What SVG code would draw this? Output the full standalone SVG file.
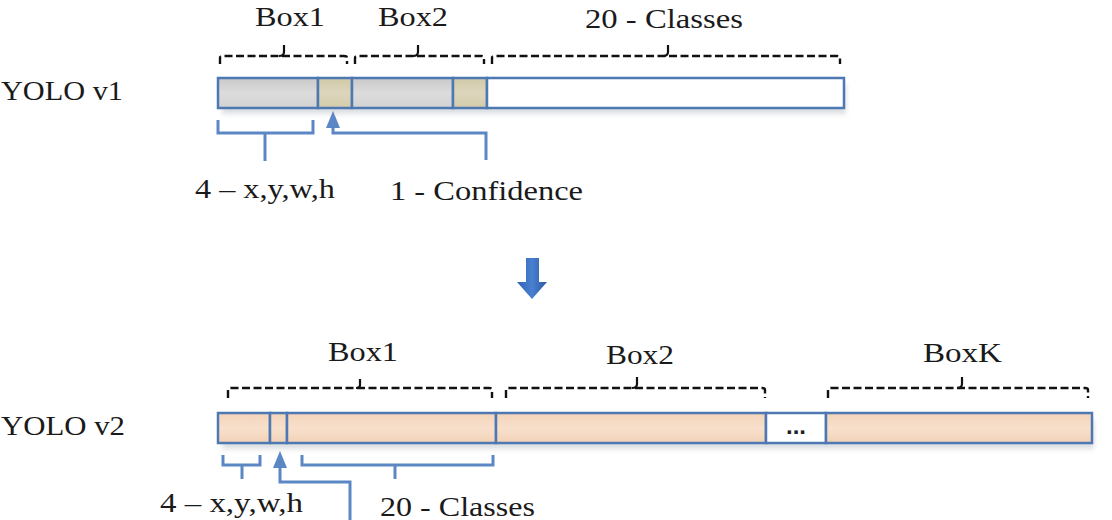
<svg xmlns="http://www.w3.org/2000/svg" width="1112" height="520" viewBox="0 0 1112 520">
<style>
.t{font-family:"Liberation Serif","Times New Roman",serif;font-size:27px;fill:#1a1a1a}
.cell{stroke:#4d78b2;stroke-width:2.5}
.dash{fill:none;stroke:#111;stroke-width:2.4;stroke-dasharray:8 3.5}
.tick{fill:none;stroke:#111;stroke-width:2.2}
.brace{fill:none;stroke:#5b87c4;stroke-width:3}
.head{fill:#5b87c4}
.shadow{fill:#9aa3ad;opacity:0.35}
</style>
<defs>
<linearGradient id="gray" x1="0" y1="0" x2="0" y2="1"><stop offset="0" stop-color="#c9c9c9"/><stop offset="0.5" stop-color="#dcdcdc"/><stop offset="1" stop-color="#d2d2d2"/></linearGradient>
<linearGradient id="tan" x1="0" y1="0" x2="0" y2="1"><stop offset="0" stop-color="#d2c9a8"/><stop offset="0.5" stop-color="#ddd6bd"/><stop offset="1" stop-color="#d4cbaa"/></linearGradient>
<linearGradient id="peach" x1="0" y1="0" x2="0" y2="1"><stop offset="0" stop-color="#f3d3b9"/><stop offset="0.5" stop-color="#f8e0cc"/><stop offset="1" stop-color="#f2d2b8"/></linearGradient>
<linearGradient id="arr" x1="0" y1="0" x2="1" y2="0"><stop offset="0" stop-color="#2f63b3"/><stop offset="0.5" stop-color="#4a80d0"/><stop offset="1" stop-color="#2a5aa6"/></linearGradient>
<filter id="blur" x="-5%" y="-50%" width="110%" height="200%"><feGaussianBlur stdDeviation="2.5"/></filter>
</defs>
<rect width="1112" height="520" fill="#fff"/>

<g id="v1-label"><text class="t" x="1" y="100" textLength="122" lengthAdjust="spacingAndGlyphs">YOLO v1</text></g>
<g id="v2-label"><text class="t" x="1" y="435" textLength="124" lengthAdjust="spacingAndGlyphs">YOLO v2</text></g>

<g id="v1-bar">
<rect class="shadow" x="222" y="84" width="624" height="30" filter="url(#blur)"/>
<rect class="cell" x="218" y="78" width="100" height="30" fill="url(#gray)"/>
<rect class="cell" x="318" y="78" width="34" height="30" fill="url(#tan)"/>
<rect class="cell" x="352" y="78" width="101" height="30" fill="url(#gray)"/>
<rect class="cell" x="453" y="78" width="34" height="30" fill="url(#tan)"/>
<rect class="cell" x="487" y="78" width="357" height="30" fill="#fff"/>
</g>

<g id="v1-brackets">
<path class="dash" d="M220,64 V58 Q220,56 223,56 H344 Q347,56 347,58 V64"/>
<path class="tick" d="M279,56 Q284,56 284,52 V45"/>
<text class="t" x="255" y="26" textLength="70" lengthAdjust="spacingAndGlyphs">Box1</text>
<path class="dash" d="M355,64 V58 Q355,56 358,56 H481 Q484,56 484,58 V64"/>
<path class="tick" d="M413,56 Q418,56 418,52 V45"/>
<text class="t" x="378" y="26" textLength="70" lengthAdjust="spacingAndGlyphs">Box2</text>
<path class="dash" d="M492,64 V58 Q492,56 495,56 H837 Q840,56 840,58 V64"/>
<path class="tick" d="M663,56 Q668,56 668,52 V45"/>
<text class="t" x="585" y="28" textLength="158" lengthAdjust="spacingAndGlyphs">20 - Classes</text>
</g>

<g id="v1-annotations">
<path class="brace" d="M218,120 V133 H313 V120 M265,133 V161"/>
<text class="t" x="195" y="198" textLength="140" lengthAdjust="spacingAndGlyphs">4 – x,y,w,h</text>
<path class="brace" d="M486,160 V133 H333 V126"/>
<polygon class="head" points="333,111 326,128 340,128"/>
<text class="t" x="390" y="200" textLength="193" lengthAdjust="spacingAndGlyphs">1 - Confidence</text>
</g>

<g id="down-arrow">
<polygon fill="url(#arr)" points="526,258 539,258 539,282 547,282 532,299 517,282 526,282"/>
</g>

<g id="v2-bar">
<rect class="shadow" x="222" y="419" width="872" height="30" filter="url(#blur)"/>
<rect class="cell" x="218" y="413" width="52" height="30" fill="url(#peach)"/>
<rect class="cell" x="270" y="413" width="17" height="30" fill="url(#peach)"/>
<rect class="cell" x="287" y="413" width="209" height="30" fill="url(#peach)"/>
<rect class="cell" x="496" y="413" width="270" height="30" fill="url(#peach)"/>
<rect class="cell" x="766" y="413" width="60" height="30" fill="#fff"/>
<rect class="cell" x="826" y="413" width="266" height="30" fill="url(#peach)"/>
<text x="796" y="434" text-anchor="middle" style="font-family:'Liberation Sans',Arial,sans-serif;font-size:24px;font-weight:bold;fill:#222">...</text>
</g>

<g id="v2-brackets">
<path class="dash" d="M228,398 V390 Q228,388 231,388 H489 Q492,388 492,390 V398"/>
<path class="tick" d="M356,388 Q360,388 360,385 V379"/>
<text class="t" x="328" y="361" textLength="70" lengthAdjust="spacingAndGlyphs">Box1</text>
<path class="dash" d="M506,398 V390 Q506,388 509,388 H762 Q765,388 765,390 V398"/>
<path class="tick" d="M632,388 Q637,388 637,384 V377"/>
<text class="t" x="606" y="364" textLength="68" lengthAdjust="spacingAndGlyphs">Box2</text>
<path class="dash" d="M828,398 V390 Q828,388 831,388 H1085 Q1088,388 1088,390 V398"/>
<path class="tick" d="M957,388 Q962,388 962,384 V377"/>
<text class="t" x="923" y="362" textLength="79" lengthAdjust="spacingAndGlyphs">BoxK</text>
</g>

<g id="v2-annotations">
<path class="brace" d="M223,455 V465 H260 V455 M242,465 V479"/>
<path class="brace" d="M302,455 V465 H493 V455 M395,465 V479"/>
<path class="brace" d="M350,520 V482 H280 V466"/>
<polygon class="head" points="280,451 273,468 287,468"/>
<text class="t" x="160" y="512" textLength="143" lengthAdjust="spacingAndGlyphs">4 – x,y,w,h</text>
<text class="t" x="380" y="516" textLength="155" lengthAdjust="spacingAndGlyphs">20 - Classes</text>
</g>
</svg>
